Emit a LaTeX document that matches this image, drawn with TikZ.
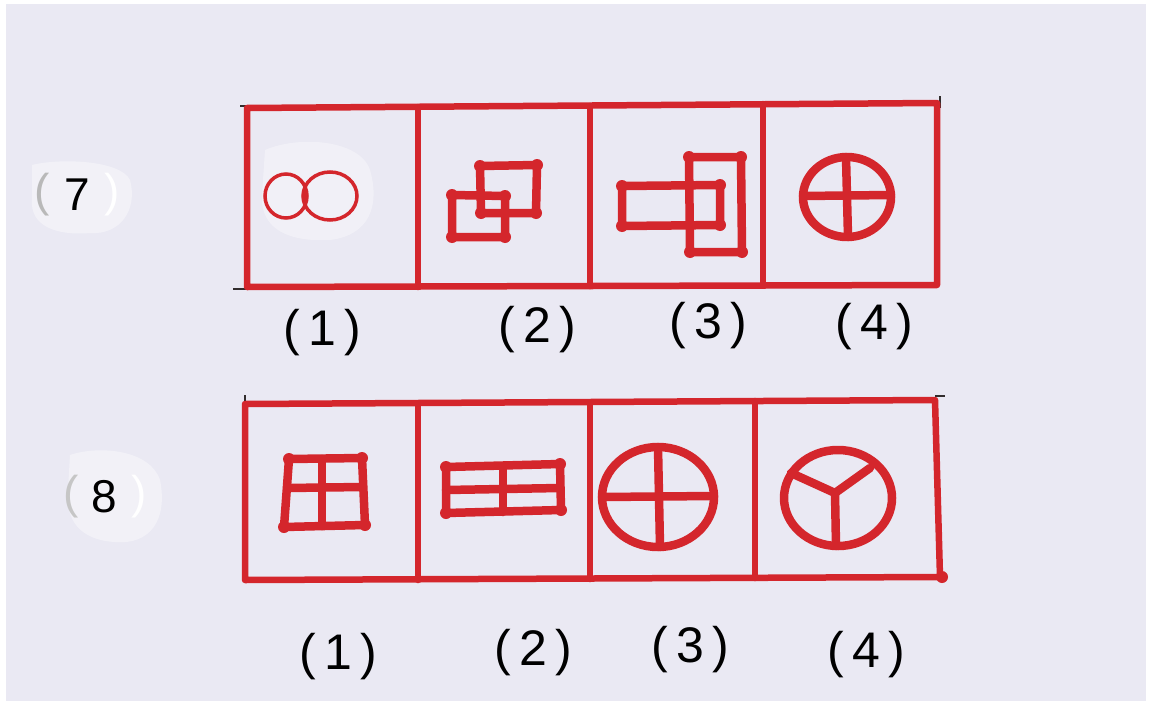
\documentclass[tikz,border=0pt]{standalone}
\usepackage{fontspec}
\setmainfont{Liberation Sans}
\definecolor{paper}{RGB}{234,233,243}
\definecolor{ink}{RGB}{212,38,44}
\definecolor{pencil}{RGB}{50,45,45}
\tikzset{
  boxline/.style={draw=ink, line width=6.5pt, line join=round, line cap=round},
  thinfig/.style={draw=ink, line width=3.5pt},
  thickfig/.style={draw=ink, line width=8.5pt, line join=round, line cap=round},
  dotc/.style={fill=ink},
  lbl/.style={font=\fontsize{50}{54}\selectfont, text=black, inner sep=0pt},
  qnum/.style={font=\fontsize{46}{50}\selectfont, text=black, inner sep=0pt},
  patch/.style={fill=white, opacity=0.4},
  pencilline/.style={draw=pencil, line width=1.2pt}
}
\begin{document}
\begin{tikzpicture}[x=1pt,y=-1pt]
\useasboundingbox (0,0) rectangle (1153,709);
\fill[white] (0,0) rectangle (1153,709);
\fill[paper] (6,4) rectangle (1146,701);

% white correction patches
\fill[patch] (32,165) .. controls (60,158) and (120,160) .. (130,180) .. controls (138,210) and (120,235) .. (90,233) .. controls (55,236) and (30,225) .. (32,200) -- cycle;
\fill[patch] (70,455) .. controls (100,445) and (150,450) .. (160,480) .. controls (168,520) and (150,545) .. (115,542) .. controls (80,540) and (65,520) .. (68,490) -- cycle;
\fill[white, opacity=0.35] (265,150) .. controls (300,135) and (360,140) .. (370,170) .. controls (380,205) and (370,235) .. (330,240) .. controls (290,242) and (260,230) .. (262,195) -- cycle;

% question numbers
\node[qnum, text=gray!55] (p7l) at (42,195) {(};
\node[qnum] (q7) at (77,195) {7};
\node[qnum, text=white] (p7r) at (112,195) {)};
\node[qnum, text=gray!45] (p8l) at (71,497) {(};
\node[qnum] (q8) at (104,497) {8};
\node[qnum, text=white] (p8r) at (139,497) {)};

% ---------- Row 1 boxes ----------
\draw[pencilline] (240,106) -- (250,106);
\draw[pencilline] (940,96) -- (940,108);
\draw[pencilline] (233,289) -- (250,289);
\draw[boxline] (247,108) -- (937,103) -- (937,285) -- (247,287) -- cycle;
\draw[boxline] (418,107) -- (418,287);
\draw[boxline] (590,106) -- (590,286);
\draw[boxline] (763,104) -- (763,285);

% cell 1: two rings
\draw[thinfig] (286,196) ellipse [x radius=21pt, y radius=22pt];
\draw[thinfig] (330,196) ellipse [x radius=27pt, y radius=24pt];

% cell 2: two overlapping squares
\draw[thickfig] (480,166) -- (537,165) -- (536,213) -- (481,213) -- cycle;
\draw[thickfig] (452,195) -- (505,196) -- (505,237) -- (452,237) -- cycle;
\foreach \p in {(480,166),(537,165),(536,213),(481,213),(452,195),(505,196),(505,237),(452,237)}
  \fill[dotc] \p circle (6pt);

% cell 3: crossing rectangles
\draw[thickfig] (622,186) -- (720,185) -- (720,225) -- (622,226) -- cycle;
\draw[thickfig] (689,157) -- (741,157) -- (742,252) -- (690,252) -- cycle;
\foreach \p in {(622,186),(720,185),(720,225),(622,226),(689,157),(741,157),(742,252),(690,252)}
  \fill[dotc] \p circle (6pt);

% cell 4: circle with cross
\draw[thickfig] (847,197) ellipse [x radius=44pt, y radius=40pt];
\draw[thickfig] (803,196) -- (891,195);
\draw[thickfig] (846,157) -- (848,237);

% ---------- Row 2 boxes ----------
\draw[pencilline] (245,395) -- (245,410);
\draw[pencilline] (935,396) -- (945,396);
\draw[boxline] (245,404) -- (935,400) -- (940,577) -- (245,580) -- cycle;
\draw[boxline] (418,404) -- (418,580);
\draw[boxline] (590,403) -- (590,579);
\draw[boxline] (755,401) -- (755,578);
\fill[dotc] (942,577) circle (6pt);

% cell 1: window square
\draw[thickfig] (289,459) -- (362,458) -- (365,525) -- (284,527) -- cycle;
\draw[thickfig] (287,488) -- (362,487);
\draw[thickfig] (322,459) -- (322,526);
\foreach \p in {(289,459),(362,458),(365,525),(284,527)}
  \fill[dotc] \p circle (6pt);

% cell 2: wide rectangle
\draw[thickfig] (446,467) -- (560,464) -- (561,510) -- (446,513) -- cycle;
\draw[thickfig] (446,490) -- (560,488);
\draw[thickfig] (503,466) -- (503,512);
\foreach \p in {(446,467),(560,464),(561,510),(446,513)}
  \fill[dotc] \p circle (6pt);

% cell 3: circle with cross
\draw[thickfig] (658,497) ellipse [x radius=56pt, y radius=50pt];
\draw[thickfig] (602,497) -- (714,496);
\draw[thickfig] (658,447) -- (660,547);

% cell 4: circle with Y
\draw[thickfig] (838,498) ellipse [x radius=54pt, y radius=48pt];
\coordinate (yc) at (835,493);
\draw[thickfig] (yc) -- (791,473);
\draw[thickfig] (yc) -- (870,468);
\draw[thickfig] (yc) -- (836,546);

% ---------- labels ----------
\node[lbl] (a1) at (322,333) {(\,1\,)};
\node[lbl] (a2) at (537,330) {(\,2\,)};
\node[lbl] (a3) at (708,326) {(\,3\,)};
\node[lbl] (a4) at (874,327) {(\,4\,)};
\node[lbl] (b1) at (338,657) {(\,1\,)};
\node[lbl] (b2) at (533,653) {(\,2\,)};
\node[lbl] (b3) at (690,650) {(\,3\,)};
\node[lbl] (b4) at (866,655) {(\,4\,)};
\end{tikzpicture}
\end{document}
